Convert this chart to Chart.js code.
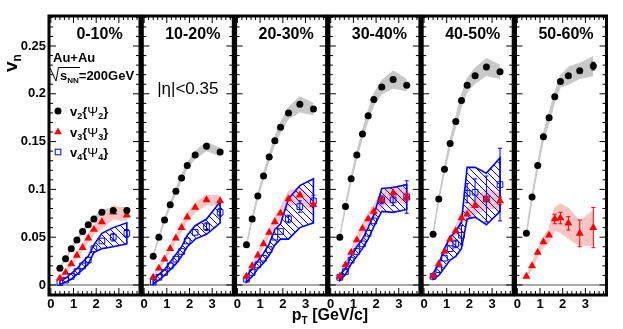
<!DOCTYPE html>
<html>
<head>
<meta charset="utf-8">
<script src="https://cdn.jsdelivr.net/npm/chart.js@4.4.1/dist/chart.umd.min.js"></script>
<style>
  body { margin: 0; background: #fff; }
  #wrap { position: relative; width: 623px; height: 329px; }
  #wrap canvas { position: absolute; left: 0; top: 0; }
</style>
</head>
<body>
<div id="wrap"></div>
<script>
// pT bin centres (GeV/c), same for every centrality
const pT = [0.4, 0.65, 0.9, 1.15, 1.4, 1.65, 1.9, 2.25, 2.75, 3.35];
const centralities = ["0-10%", "10-20%", "20-30%", "30-40%", "40-50%", "50-60%"];

// v2{Psi2}
const v2Values = [
  [0.0175, 0.0275, 0.038, 0.047, 0.056, 0.063, 0.069, 0.076, 0.078, 0.078],
  [0.030, 0.050, 0.068, 0.084, 0.098, 0.112, 0.125, 0.136, 0.145, 0.139],
  [0.042, 0.069, 0.093, 0.114, 0.134, 0.151, 0.165, 0.180, 0.189, 0.184],
  [0.050, 0.082, 0.111, 0.136, 0.158, 0.177, 0.194, 0.207, 0.215, 0.209],
  [0.053, 0.090, 0.121, 0.148, 0.171, 0.193, 0.209, 0.219, 0.228, 0.223],
  [0.054, 0.092, 0.125, 0.155, 0.175, 0.197, 0.213, 0.219, 0.224, 0.229],
];
const v2Sys = [
  [0.001, 0.001, 0.001, 0.0015, 0.0015, 0.002, 0.002, 0.002, 0.003, 0.003],
  [0.001, 0.0015, 0.002, 0.002, 0.0025, 0.003, 0.003, 0.004, 0.0045, 0.004],
  [0.001, 0.002, 0.002, 0.003, 0.003, 0.004, 0.005, 0.006, 0.008, 0.006],
  [0.0015, 0.002, 0.003, 0.003, 0.004, 0.005, 0.006, 0.007, 0.009, 0.006],
  [0.0015, 0.002, 0.003, 0.004, 0.005, 0.006, 0.007, 0.008, 0.009, 0.007],
  [0.002, 0.003, 0.003, 0.004, 0.005, 0.005, 0.006, 0.009, 0.008, 0.010],
];
const v2Errors = [
  [0, 0, 0, 0, 0, 0, 0, 0.001, 0.001, 0.001],
  [0, 0, 0, 0, 0, 0, 0, 0.001, 0.001, 0.002],
  [0, 0, 0, 0, 0, 0, 0, 0.001, 0.002, 0.002],
  [0, 0, 0, 0, 0, 0, 0, 0.001, 0.002, 0.003],
  [0, 0, 0, 0, 0, 0, 0, 0.002, 0.002, 0.003],
  [0, 0, 0, 0, 0, 0, 0.001, 0.002, 0.003, 0.004],
];

// v3{Psi3}
const v3Values = [
  [0.007, 0.013, 0.022, 0.031, 0.039, 0.049, 0.058, 0.066, 0.076, 0.073],
  [0.008, 0.0175, 0.027, 0.038, 0.049, 0.060, 0.071, 0.081, 0.089, 0.088],
  [0.009, 0.020, 0.031, 0.043, 0.055, 0.066, 0.075, 0.090, 0.094, 0.084],
  [0.009, 0.021, 0.034, 0.047, 0.059, 0.069, 0.077, 0.089, 0.096, 0.092],
  [0.0095, 0.022, 0.035, 0.048, 0.0565, 0.070, 0.074, 0.083, 0.090, 0.088],
  [0.009, 0.020, 0.034, 0.045, 0.052, 0.069, 0.070, 0.0645, 0.054, 0.060],
];
const v3Sys = [
  [0.001, 0.002, 0.002, 0.003, 0.003, 0.004, 0.005, 0.007, 0.007, 0.006],
  [0.001, 0.002, 0.002, 0.003, 0.003, 0.004, 0.004, 0.005, 0.005, 0.005],
  [0.001, 0.002, 0.003, 0.003, 0.004, 0.005, 0.006, 0.008, 0.008, 0.006],
  [0.001, 0.002, 0.003, 0.004, 0.005, 0.006, 0.007, 0.008, 0.008, 0.008],
  [0.001, 0.002, 0.003, 0.004, 0.005, 0.006, 0.006, 0.009, 0.010, 0.008],
  [0.001, 0.003, 0.004, 0.005, 0.007, 0.012, 0.015, 0.016, 0.013, 0.018],
];
const v3Errors = [
  [0, 0, 0, 0, 0, 0, 0, 0.001, 0.002, 0.002],
  [0, 0, 0, 0, 0, 0, 0, 0.001, 0.002, 0.003],
  [0, 0, 0, 0, 0, 0, 0.001, 0.002, 0.002, 0.003],
  [0, 0, 0, 0, 0, 0, 0.001, 0.002, 0.003, 0.004],
  [0, 0, 0, 0, 0, 0.001, 0.002, 0.002, 0.003, 0.004],
  [0, 0, 0.001, 0.0015, 0.002, 0.005, 0.006, 0.007, 0.014, 0.021],
];

// v4{Psi4} (not measured for 50-60%)
const v4Values = [
  [0.0025, 0.005, 0.009, 0.014, 0.020, 0.026, 0.038, 0.046, 0.050, 0.054],
  [0.003, 0.008, 0.013, 0.020, 0.027, 0.035, 0.046, 0.055, 0.061, 0.076],
  [0.006, 0.013, 0.021, 0.028, 0.037, 0.050, 0.056, 0.069, 0.082, 0.088],
  [0.008, 0.014, 0.026, 0.035, 0.043, 0.054, 0.067, 0.089, 0.089, 0.092],
  [0.009, 0.016, 0.028, 0.038, 0.043, 0.052, 0.096, 0.097, 0.090, 0.105],
  [],
];
const v4Sys = [
  [0.002, 0.002, 0.003, 0.003, 0.004, 0.004, 0.004, 0.008, 0.010, 0.011],
  [0.002, 0.003, 0.003, 0.004, 0.005, 0.005, 0.006, 0.007, 0.008, 0.011],
  [0.003, 0.004, 0.004, 0.005, 0.006, 0.008, 0.008, 0.021, 0.022, 0.023],
  [0.003, 0.003, 0.004, 0.005, 0.005, 0.006, 0.006, 0.012, 0.013, 0.013],
  [0.003, 0.006, 0.010, 0.012, 0.013, 0.014, 0.027, 0.026, 0.027, 0.028],
  [],
];
const v4Errors = [
  [0, 0, 0.001, 0.001, 0.001, 0.0015, 0.002, 0.003, 0.004, 0.004],
  [0, 0, 0.001, 0.001, 0.001, 0.0015, 0.002, 0.003, 0.004, 0.004],
  [0, 0.001, 0.001, 0.001, 0.0015, 0.002, 0.003, 0.004, 0.006, 0.006],
  [0.001, 0.001, 0.001, 0.0015, 0.002, 0.002, 0.003, 0.004, 0.006, 0.017],
  [0.001, 0.0015, 0.002, 0.003, 0.004, 0.010, 0.010, 0.014, 0.024, 0.038],
  [],
];

const xTickValues = [0, 1, 2, 3];
const yTickValues = [0, 0.05, 0.1, 0.15, 0.2, 0.25];
const yTickLabels = ["0", "0.05", "0.1", "0.15", "0.2", "0.25"];

const FONT = '"Liberation Sans", Arial, Helvetica, sans-serif';
const W = 623, H = 329;
const PANEL_LEFT = 49, PANEL_STEP = 93.3, PANEL_W = 91;

// hatch pattern for the v4 systematic band
function makeHatch() {
  const c = document.createElement("canvas");
  c.width = 7; c.height = 7;
  const g = c.getContext("2d");
  g.strokeStyle = "#0000ff";
  g.lineWidth = 1;
  g.beginPath();
  g.moveTo(-1, -1); g.lineTo(8, 8);
  g.moveTo(-1, 6); g.lineTo(1, 8);
  g.moveTo(6, -1); g.lineTo(8, 1);
  g.stroke();
  return g.createPattern(c, "repeat");
}
const hatch = makeHatch();

// text with sub/superscripts: parts = [text, size, weight, dy]
function drawRich(ctx, parts, x, y, align) {
  let w = 0;
  parts.forEach((p) => {
    ctx.font = `${p[2]} ${p[1]}px ${FONT}`;
    w += ctx.measureText(p[0]).width;
  });
  let cx = align === "center" ? x - w / 2 : x;
  ctx.textAlign = "left";
  ctx.textBaseline = "alphabetic";
  parts.forEach((p) => {
    ctx.font = `${p[2]} ${p[1]}px ${FONT}`;
    ctx.fillText(p[0], cx, y + (p[3] || 0));
    cx += ctx.measureText(p[0]).width;
  });
}

// error bars, drawn just under each marker set
const errorBars = {
  id: "errorBars",
  beforeDatasetDraw(chart, args) {
    const ds = chart.data.datasets[args.index];
    if (!ds.errors) return;
    const ctx = chart.ctx;
    const ys = chart.scales.y;
    ctx.save();
    ctx.strokeStyle = ds.borderColor;
    ctx.lineWidth = 1;
    args.meta.data.forEach((pt, i) => {
      const e = ds.errors[i];
      if (!e) return;
      const v = ds.data[i].y;
      const y1 = ys.getPixelForValue(v + e);
      const y2 = ys.getPixelForValue(v - e);
      if (y2 - y1 < 7) return;
      ctx.beginPath();
      ctx.moveTo(pt.x, y1); ctx.lineTo(pt.x, y2);
      ctx.moveTo(pt.x - 2, y1); ctx.lineTo(pt.x + 2, y1);
      ctx.moveTo(pt.x - 2, y2); ctx.lineTo(pt.x + 2, y2);
      ctx.stroke();
    });
    ctx.restore();
  },
};

// ROOT style frame: thick box, inward ticks on all sides, zero line
const frame = {
  id: "frame",
  beforeDatasetsDraw(chart) {
    const { ctx, chartArea: a, scales } = chart;
    const y0 = scales.y.getPixelForValue(0);
    ctx.save();
    ctx.strokeStyle = "#8c8c8c";
    ctx.lineWidth = 1.5;
    ctx.beginPath();
    ctx.moveTo(a.left, y0); ctx.lineTo(a.right, y0);
    ctx.stroke();
    ctx.restore();
  },
  afterDraw(chart) {
    const { ctx, chartArea: a, scales } = chart;
    const x = scales.x, y = scales.y;
    ctx.save();
    ctx.strokeStyle = "#000";
    ctx.lineWidth = 1;
    ctx.beginPath();
    for (let i = 0; i * 0.2 <= x.max; i++) {
      const px = x.getPixelForValue(i * 0.2);
      const len = i % 5 === 0 ? 7 : 4;
      ctx.moveTo(px, a.bottom); ctx.lineTo(px, a.bottom - len);
      ctx.moveTo(px, a.top); ctx.lineTo(px, a.top + len);
    }
    for (let i = -1; i * 0.01 <= y.max; i++) {
      const py = y.getPixelForValue(i * 0.01);
      const len = i % 5 === 0 ? 7 : 4;
      ctx.moveTo(a.left, py); ctx.lineTo(a.left + len, py);
      ctx.moveTo(a.right, py); ctx.lineTo(a.right - len, py);
    }
    ctx.stroke();
    ctx.lineWidth = 3;
    ctx.strokeRect(a.left, a.top, a.right - a.left, a.bottom - a.top);
    ctx.restore();
  },
};

// labels and legend
const texts = {
  id: "texts",
  afterDraw(chart, args, opts) {
    const ctx = chart.ctx;
    const a = chart.chartArea;
    const i = opts.panel;
    ctx.save();
    ctx.fillStyle = "#000";
    drawRich(ctx, [[centralities[i], 16, "bold"]], (a.left + a.right) / 2 + 5, 39, "center");
    if (i === 0) {
      drawRich(ctx, [["Au+Au", 13, "bold"]], 53, 62, "left");
      ctx.strokeStyle = "#000";
      ctx.lineWidth = 1;
      ctx.beginPath();
      ctx.moveTo(50, 68); ctx.lineTo(56, 81); ctx.lineTo(58.5, 67.5); ctx.lineTo(80, 67.5);
      ctx.stroke();
      drawRich(ctx, [["s", 13, "bold"], ["NN", 8, "bold", 3], ["=200GeV", 13, "bold"]], 60, 80, "left");

      const legend = [
        ["v2", "2", "circle"],
        ["v3", "3", "triangle"],
        ["v4", "4", "rect"],
      ];
      const ly = [111, 132, 152];
      legend.forEach((l, k) => {
        const mx = 58, my = ly[k];
        ctx.beginPath();
        if (l[2] === "circle") {
          ctx.fillStyle = "#000";
          ctx.arc(mx, my, 3.5, 0, Math.PI * 2);
          ctx.fill();
        } else if (l[2] === "triangle") {
          ctx.fillStyle = "#ff0000";
          ctx.moveTo(mx, my - 4.5); ctx.lineTo(mx + 3.9, my + 2.3); ctx.lineTo(mx - 3.9, my + 2.3);
          ctx.closePath();
          ctx.fill();
        } else {
          ctx.strokeStyle = "#0000ff";
          ctx.strokeRect(mx - 2.8, my - 2.8, 5.6, 5.6);
        }
        ctx.fillStyle = "#000";
        drawRich(ctx, [["v", 13, "bold"], [l[1], 9, "bold", 3], ["{", 13, "bold"], ["\u03A8", 13, "normal"], [l[1], 9, "bold", 3], ["}", 13, "bold"]], 70, my + 4.5, "left");
      });

      // axis titles
      ctx.save();
      ctx.translate(11, 63);
      ctx.rotate(-Math.PI / 2);
      drawRich(ctx, [["v", 19, "bold"], ["n", 12, "bold", 4]], 0, 6, "center");
      ctx.restore();
      drawRich(ctx, [["p", 16, "bold"], ["T", 10, "bold", 4], [" [GeV/c]", 16, "bold"]], 330, 320, "center");
    }
    if (i === 1) {
      drawRich(ctx, [["|\u03B7|<0.35", 17, "normal"]], (a.left + a.right) / 2, 94, "center");
    }
    ctx.restore();
  },
};

function pts(vals) {
  return pT.map((x, j) => ({ x: x, y: vals[j] }));
}
function shifted(vals, sys, s) {
  return pT.map((x, j) => ({ x: x, y: vals[j] + s * sys[j] }));
}

function buildDatasets(i) {
  const ds = [];
  ds.push({
    label: "v2", data: pts(v2Values[i]), errors: v2Errors[i], showLine: false,
    pointStyle: "circle", pointRadius: 3.5, backgroundColor: "#000", borderColor: "#000",
    borderWidth: 0, order: 0,
  });
  ds.push({
    label: "v3", data: pts(v3Values[i]), errors: v3Errors[i], showLine: false,
    pointStyle: "triangle", pointRadius: 4.6, backgroundColor: "#ff0000", borderColor: "#ff0000",
    borderWidth: 0, order: 1,
  });
  if (v4Values[i].length) {
    const hi = shifted(v4Values[i], v4Sys[i], 1);
    const lo = shifted(v4Values[i], v4Sys[i], -1);
    ds.push({
      label: "v4", data: pts(v4Values[i]), errors: v4Errors[i], showLine: false,
      pointStyle: "rect", pointRadius: 4, backgroundColor: "rgba(0,0,0,0)", borderColor: "#0000ff",
      borderWidth: 1, order: 2,
    });
    ds.push({
      label: "v4 sys outline", data: hi.concat(lo.slice().reverse(), [hi[0]]),
      borderColor: "#0000ff", borderWidth: 1.6, pointRadius: 0, fill: false, order: 3,
    });
    const k = ds.length;
    ds.push({ label: "v4 sys hi", data: hi, borderWidth: 0, pointRadius: 0, fill: false, order: 4 });
    ds.push({ label: "v4 sys lo", data: lo, borderWidth: 0, pointRadius: 0, fill: k, backgroundColor: hatch, order: 5 });
  }
  let k = ds.length;
  ds.push({
    label: "v3 sys hi", data: shifted(v3Values[i], v3Sys[i], 1), borderColor: "#f9c4c4",
    borderWidth: 1, pointRadius: 0, fill: false, order: 6,
  });
  ds.push({
    label: "v3 sys lo", data: shifted(v3Values[i], v3Sys[i], -1), borderColor: "#f9c4c4",
    borderWidth: 1, pointRadius: 0, fill: k, backgroundColor: "#f9c4c4", order: 7,
  });
  k = ds.length;
  ds.push({
    label: "v2 sys hi", data: shifted(v2Values[i], v2Sys[i], 1), borderColor: "#c8c8c8",
    borderWidth: 1, pointRadius: 0, fill: false, order: 8,
  });
  ds.push({
    label: "v2 sys lo", data: shifted(v2Values[i], v2Sys[i], -1), borderColor: "#c8c8c8",
    borderWidth: 1, pointRadius: 0, fill: k, backgroundColor: "#c8c8c8", order: 9,
  });
  return ds;
}

const wrap = document.getElementById("wrap");
centralities.forEach((c, i) => {
  const canvas = document.createElement("canvas");
  canvas.width = W;
  canvas.height = H;
  wrap.appendChild(canvas);
  const left = PANEL_LEFT + PANEL_STEP * i;
  new Chart(canvas, {
    type: "line",
    data: { datasets: buildDatasets(i) },
    options: {
      responsive: false,
      animation: false,
      events: [],
      layout: {
        padding: { left: i === 0 ? 0 : left, right: W - left - PANEL_W, top: 16, bottom: 14 },
      },
      elements: { line: { tension: 0 } },
      plugins: {
        legend: { display: false },
        tooltip: { enabled: false },
        texts: { panel: i },
      },
      scales: {
        x: {
          type: "linear",
          min: -0.08,
          max: 3.93,
          grid: { display: false, drawTicks: false },
          border: { display: false },
          afterBuildTicks: (s) => { s.ticks = xTickValues.map((v) => ({ value: v })); },
          afterFit: (s) => { s.height = 20; },
          ticks: {
            color: "#000",
            padding: 2,
            maxRotation: 0,
            font: { family: FONT, size: 13, weight: "bold" },
            callback: (v) => String(v),
          },
        },
        y: {
          display: i === 0,
          min: -0.0105,
          max: 0.2814,
          grid: { display: false, drawTicks: false },
          border: { display: false },
          afterBuildTicks: (s) => { s.ticks = yTickValues.map((v) => ({ value: v })); },
          afterFit: (s) => { s.width = i === 0 ? 49 : 0; },
          ticks: {
            color: "#000",
            padding: 3,
            font: { family: FONT, size: 13, weight: "bold" },
            callback: (v, idx) => yTickLabels[idx],
          },
        },
      },
    },
    plugins: [frame, errorBars, texts],
  });
});
</script>
</body>
</html>
